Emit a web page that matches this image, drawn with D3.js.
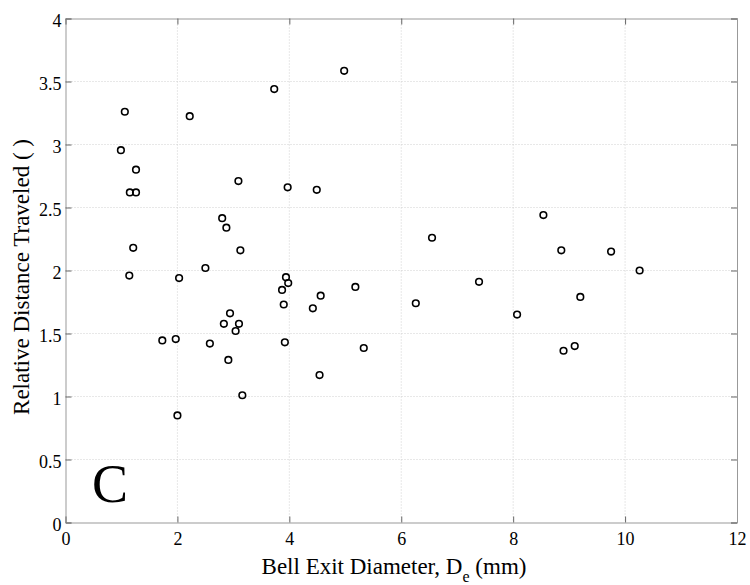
<!DOCTYPE html>
<html>
<head>
<meta charset="UTF-8">
<script src="https://d3js.org/d3.v7.min.js"></script>
<style>
  body { margin: 0; background: #fff; }
  text { font-family: "Liberation Serif", "Times New Roman", serif; fill: #000; }
</style>
</head>
<body>
<svg width="750" height="585"></svg>
<script>
// bell exit diameter (mm) and relative distance traveled
const diameter = [3.73, 1.06, 2.22, 0.99, 1.26, 3.09, 3.97, 1.15, 1.26, 2.80, 2.875, 1.21, 3.125, 2.50,
  4.98, 4.49, 6.55, 8.54, 8.86, 9.75, 10.26,
  1.14, 2.03, 3.94, 3.98, 3.87, 3.90, 4.42, 2.94, 2.83, 3.10, 3.04, 1.73, 1.97, 2.58, 3.92, 2.91, 3.16, 2.00,
  4.56, 5.18, 6.26, 7.39, 8.07, 5.33, 4.54, 9.20, 8.90, 9.10];
const distance = [3.44, 3.26, 3.225, 2.955, 2.80, 2.71, 2.66, 2.62, 2.62, 2.415, 2.34, 2.18, 2.16, 2.02,
  3.585, 2.64, 2.26, 2.44, 2.16, 2.15, 2.00,
  1.96, 1.94, 1.947, 1.90, 1.846, 1.73, 1.70, 1.66, 1.577, 1.577, 1.52, 1.445, 1.456, 1.42, 1.43, 1.29, 1.01, 0.85,
  1.80, 1.87, 1.74, 1.91, 1.65, 1.385, 1.17, 1.79, 1.363, 1.40];
const xTicks = [0, 2, 4, 6, 8, 10, 12];
const yTicks = [0, 0.5, 1, 1.5, 2, 2.5, 3, 3.5, 4];

const points = diameter.map((d, i) => ({ x: d, y: distance[i] }));

const plotL = 65.5, plotR = 737, plotT = 18.5, plotB = 522.5;
const serif = '"Liberation Serif", "Times New Roman", serif';
const svg = d3.select("svg");

const x = d3.scaleLinear().domain([0, 12]).range([plotL, plotR]);
const y = d3.scaleLinear().domain([0, 4]).range([plotB, plotT]);

// dotted grid
svg.append("g").selectAll("line").data(xTicks.slice(1, -1)).enter().append("line")
   .attr("x1", d => x(d)).attr("x2", d => x(d)).attr("y1", plotT).attr("y2", plotB)
   .attr("stroke", "#c4c4c4").attr("stroke-width", 0.8).attr("stroke-dasharray", "1,2");
svg.append("g").selectAll("line").data(yTicks.slice(1, -1)).enter().append("line")
   .attr("y1", d => y(d)).attr("y2", d => y(d)).attr("x1", plotL).attr("x2", plotR)
   .attr("stroke", "#c4c4c4").attr("stroke-width", 0.8).attr("stroke-dasharray", "1,2");

// axes (ticks inward, MATLAB style)
const fmt = d => d3.format("")(d);
function styleAxis(g) {
  g.attr("font-family", serif);
  g.select(".domain").attr("stroke", "#999");
  g.selectAll(".tick line").attr("stroke", "#666");
  g.selectAll("text").style("font-family", serif).attr("font-size", 18).attr("fill", "#000");
}
svg.append("g").attr("transform", `translate(0,${plotB})`)
   .call(d3.axisBottom(x).tickValues(xTicks).tickSize(-6).tickPadding(10).tickFormat(fmt))
   .call(styleAxis);
svg.append("g").attr("transform", `translate(0,${plotT})`)
   .call(d3.axisTop(x).tickValues(xTicks).tickSize(-6).tickFormat(""))
   .call(styleAxis);
svg.append("g").attr("transform", `translate(${plotL},0)`)
   .call(d3.axisLeft(y).tickValues(yTicks).tickSize(-6).tickPadding(4).tickFormat(fmt))
   .call(styleAxis)
   .call(g => g.selectAll("text").attr("dy", "0.45em"));
svg.append("g").attr("transform", `translate(${plotR},0)`)
   .call(d3.axisRight(y).tickValues(yTicks).tickSize(-6).tickFormat(""))
   .call(styleAxis);

// markers
svg.append("g").selectAll("circle").data(points).enter().append("circle")
   .attr("cx", d => x(d.x)).attr("cy", d => y(d.y)).attr("r", 3.3)
   .attr("fill", "none").attr("stroke", "#000").attr("stroke-width", 1.6);

// panel letter
svg.append("text").attr("x", 92).attr("y", 502).attr("font-size", 54).text("C");

// axis titles
const xl = svg.append("text").attr("x", 394).attr("y", 574).attr("text-anchor", "middle").attr("font-size", 23);
xl.append("tspan").text("Bell Exit Diameter, D");
xl.append("tspan").attr("dy", 8).attr("font-size", 16).text("e");
xl.append("tspan").attr("dy", -8).text(" (mm)");

svg.append("text").attr("transform", "translate(29,277) rotate(-90)")
   .attr("text-anchor", "middle").attr("font-size", 23).text("Relative Distance Traveled ( )");
</script>
</body>
</html>
